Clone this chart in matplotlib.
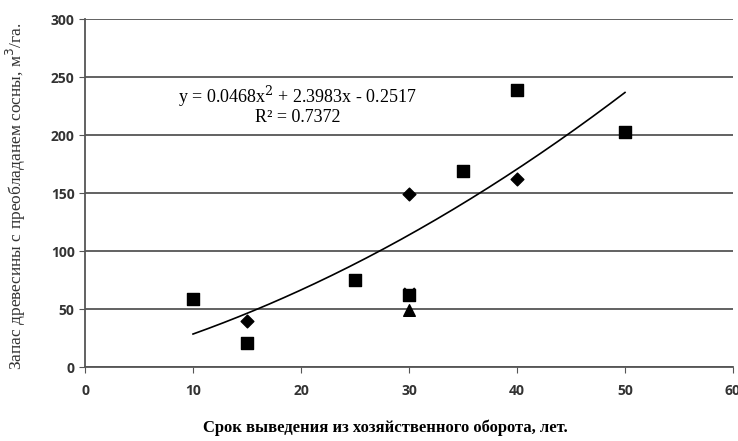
import numpy as np
import matplotlib
matplotlib.use('Agg')
import matplotlib.pyplot as plt

# ── Data ──────────────────────────────────────────────────────────────────────
square_x = [10, 15, 25, 30, 35, 40, 50]
square_y = [59, 21, 75, 62, 169, 239, 203]
diamond_x = [15, 30, 40]
diamond_y = [40, 149, 162]
triangle_x = [30]
triangle_y = [49]
cross_x = [30]
cross_y = [64]

# polynomial trend: y = 0.0468x^2 + 2.3983x - 0.2517
trend_coef = [0.0468, 2.3983, -0.2517]
trend_range = (10, 50)

x_ticks = [0, 10, 20, 30, 40, 50, 60]
y_ticks = [0, 50, 100, 150, 200, 250, 300]

fig = plt.figure(figsize=(7.38, 4.41), dpi=100)
ax = fig.add_axes([0.1152, 0.1678, 0.8780, 0.7891])

ax.set_xlim(0, 60)
ax.set_ylim(0, 300)
ax.set_xticks(x_ticks)
ax.set_yticks(y_ticks)

ax.yaxis.grid(True, color='#555555', linewidth=1.3)
ax.set_axisbelow(True)
for side in ('top', 'right'):
    ax.spines[side].set_visible(False)
ax.spines['left'].set_color('#555555')
ax.spines['bottom'].set_color('#555555')
ax.spines['left'].set_linewidth(1.3)
ax.spines['bottom'].set_linewidth(1.3)
ax.tick_params(axis='both', direction='out', length=4, color='#555555',
               labelcolor='#333333', labelsize=10)
for lab in ax.get_xticklabels() + ax.get_yticklabels():
    lab.set_family('Open Sans')
    lab.set_fontweight('bold')
ax.tick_params(axis='x', pad=8)

xt = np.linspace(trend_range[0], trend_range[1], 200)
ax.plot(xt, np.polyval(trend_coef, xt), color='black', linewidth=1.2)

ax.scatter(square_x, square_y, marker='s', s=85, color='black', zorder=3)
ax.scatter(diamond_x, diamond_y, marker='D', s=42, color='black', zorder=3)
ax.scatter(triangle_x, triangle_y, marker='^', s=70, color='black', zorder=3)
ax.scatter(cross_x, cross_y, marker='x', s=60, color='black', linewidths=1.5,
           zorder=3)

ax.text(19.7, 233, 'y = 0.0468x$^2$ + 2.3983x - 0.2517', ha='center',
        va='center', fontsize=13, family='Liberation Serif',
        math_fontfamily='dejavuserif')
ax.text(19.7, 215, 'R² = 0.7372', ha='center', va='center', fontsize=13,
        family='Liberation Serif')

ax.set_xlabel('Срок выведения из хозяйственного оборота, лет.',
              family='Liberation Serif', fontweight='bold', fontsize=12)
ax.xaxis.set_label_coords(0.463, -0.152)
ax.set_ylabel('Запас древесины с преобладанем сосны, м$^3$/га.',
              family='Liberation Serif', fontsize=12.5, color='#333333')
ax.yaxis.set_label_coords(-0.088, 0.49)

fig.savefig('out.png', dpi=100)
